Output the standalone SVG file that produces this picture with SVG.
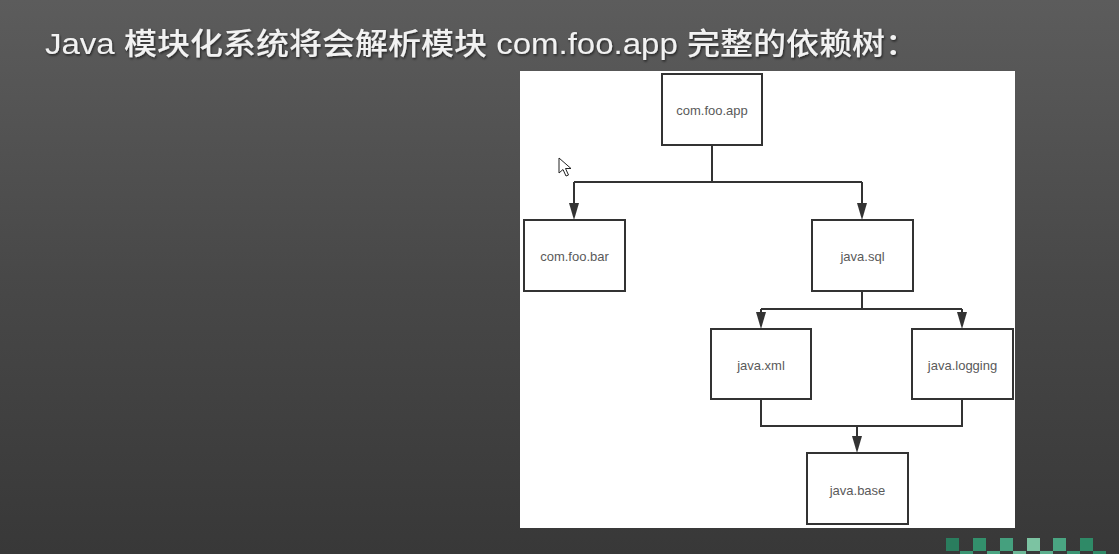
<svg xmlns="http://www.w3.org/2000/svg" width="1119" height="554" viewBox="0 0 1119 554">
<style>
.box{fill:#fff;stroke:#333;stroke-width:2}
.lbl{font-family:"Liberation Sans","Noto Sans",Arial,sans-serif;font-size:13px;fill:#5a5a5a;text-anchor:middle;dominant-baseline:central}
.edge{fill:none;stroke:#333;stroke-width:2}
.title{font-family:"Liberation Sans","Noto Sans CJK SC",sans-serif;font-size:30px;fill:#f2f2f2;font-weight:500}
</style>
<defs>
<linearGradient id="bg" x1="0" y1="0" x2="0" y2="1">
<stop offset="0" stop-color="#5c5c5c"/>
<stop offset="0.5" stop-color="#484848"/>
<stop offset="1" stop-color="#383838"/>
</linearGradient>
<filter id="sh" x="-5%" y="-30%" width="110%" height="160%">
<feDropShadow dx="1" dy="1.5" stdDeviation="1.2" flood-color="#000" flood-opacity="0.6"/>
</filter>
</defs>
<rect width="1119" height="554" fill="url(#bg)"/>
<text class="title" x="45" y="54" textLength="873" lengthAdjust="spacingAndGlyphs" filter="url(#sh)">Java 模块化系统将会解析模块 com.foo.app 完整的依赖树：</text>
<rect x="520" y="71" width="495" height="457" fill="#fff"/>
<g id="connectors">
<path class="edge" d="M712,145 V182"/>
<path class="edge" d="M574,182 H862"/>
<path class="edge" d="M574,182 V204"/>
<path class="edge" d="M862,182 V204"/>
<path d="M569,203 H579 L574,220 Z" fill="#333"/>
<path d="M857,203 H867 L862,220 Z" fill="#333"/>
<path class="edge" d="M862,291 V309"/>
<path class="edge" d="M761,309 H962"/>
<path class="edge" d="M761,309 V313"/>
<path class="edge" d="M962,309 V313"/>
<path d="M756,312 H766 L761,329 Z" fill="#333"/>
<path d="M957,312 H967 L962,329 Z" fill="#333"/>
<path class="edge" d="M761,399 V426 H962 V399"/>
<path class="edge" d="M857,426 V437"/>
<path d="M852,436 H862 L857,453 Z" fill="#333"/>
</g>
<g id="com.foo.app"><rect class="box" x="662" y="74" width="100" height="71"/><text class="lbl" x="712" y="110">com.foo.app</text></g>
<g id="com.foo.bar"><rect class="box" x="524" y="220" width="101" height="71"/><text class="lbl" x="574.5" y="256">com.foo.bar</text></g>
<g id="java.sql"><rect class="box" x="812" y="220" width="101" height="71"/><text class="lbl" x="862.5" y="256">java.sql</text></g>
<g id="java.xml"><rect class="box" x="711" y="329" width="100" height="70"/><text class="lbl" x="761" y="365">java.xml</text></g>
<g id="java.logging"><rect class="box" x="912" y="329" width="101" height="70"/><text class="lbl" x="962.5" y="365">java.logging</text></g>
<g id="java.base"><rect class="box" x="807" y="453" width="101" height="71"/><text class="lbl" x="857.5" y="490">java.base</text></g>
<path d="M559,158 L559,173 L563,169.5 L566,176 L568.5,175 L565.5,168.5 L571,168.5 Z" fill="#fff" stroke="#222" stroke-width="1"/>
<g id="deco">
<rect x="946" y="538" width="13" height="13" fill="#2a7d5e"/>
<rect x="973" y="538" width="13" height="13" fill="#33906c"/>
<rect x="1000" y="538" width="13" height="13" fill="#45a07e"/>
<rect x="1027" y="538" width="13" height="13" fill="#7cc3a2"/>
<rect x="1053" y="538" width="13" height="13" fill="#4aa582"/>
<rect x="1080" y="538" width="13" height="13" fill="#2f8a67"/>
<rect x="960" y="551" width="13" height="3" fill="#3a9472"/>
<rect x="987" y="551" width="13" height="3" fill="#4aa582"/>
<rect x="1013" y="551" width="13" height="3" fill="#6cb897"/>
<rect x="1040" y="551" width="13" height="3" fill="#5cae8d"/>
<rect x="1067" y="551" width="13" height="3" fill="#3a9472"/>
<rect x="1093" y="551" width="13" height="3" fill="#2f8a67"/>
</g>
</svg>
